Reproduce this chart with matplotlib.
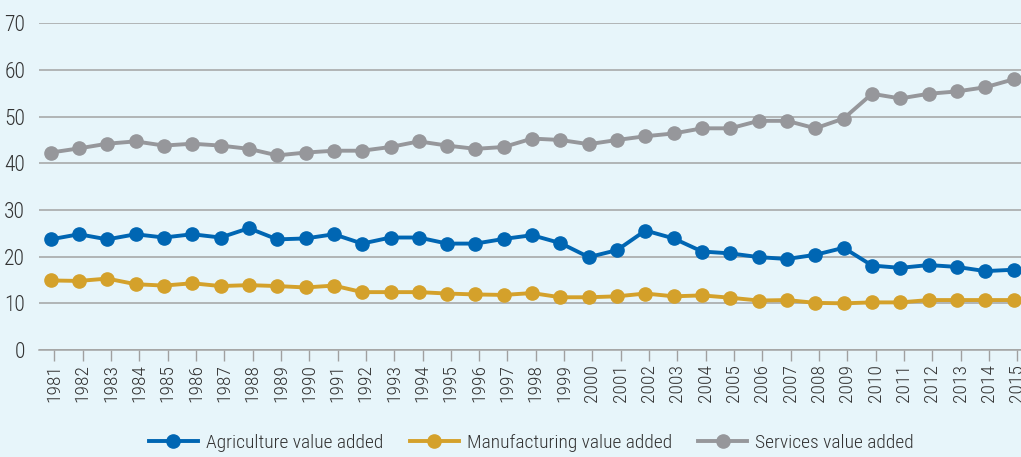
import matplotlib
matplotlib.use("Agg")
import matplotlib.pyplot as plt

years = list(range(1981, 2016))
agriculture = [23.7, 24.8, 23.7, 24.8, 24.1, 24.8, 24.1, 26.1, 23.7, 23.9, 24.8, 22.8,
               24.1, 24.1, 22.8, 22.8, 23.8, 24.6, 22.9, 19.9, 21.4, 25.6, 23.9, 21.1,
               20.7, 19.9, 19.5, 20.4, 21.9, 18.1, 17.6, 18.2, 17.8, 16.9, 17.2]
manufacturing = [14.9, 14.8, 15.3, 14.1, 13.8, 14.3, 13.7, 13.9, 13.7, 13.4, 13.8, 12.4,
                 12.4, 12.4, 12.1, 11.9, 11.8, 12.2, 11.3, 11.3, 11.5, 12.1, 11.5, 11.7,
                 11.2, 10.6, 10.7, 10.1, 10.0, 10.2, 10.2, 10.7, 10.7, 10.7, 10.7]
services = [42.3, 43.2, 44.2, 44.7, 43.8, 44.2, 43.8, 43.1, 41.7, 42.3, 42.7, 42.7,
            43.5, 44.7, 43.8, 43.1, 43.5, 45.3, 45.0, 44.1, 45.0, 45.8, 46.4, 47.5,
            47.5, 49.1, 49.1, 47.5, 49.6, 54.9, 53.9, 54.9, 55.4, 56.3, 58.0]
series_names = ["Agriculture value added", "Manufacturing value added", "Services value added"]
colors = ["#0066b3", "#d4a12b", "#96979b"]
yticks = [0, 10, 20, 30, 40, 50, 60, 70]

plt.rcParams['font.family'] = ['Roboto Condensed', 'Liberation Sans', 'DejaVu Sans']
plt.rcParams['font.weight'] = 'light'

bg = "#e7f5fa"
txt = "#333333"
fig = plt.figure(figsize=(10.21, 4.57), dpi=100, facecolor=bg)
ax = fig.add_axes([39/1021, 1-350/457, 1-39/1021, (350-23.3)/457])
ax.set_facecolor(bg)

x = list(range(len(years)))
for vals, name, c in zip([agriculture, manufacturing, services], series_names, colors):
    ax.plot(x, vals, color=c, lw=2.8, marker='o', ms=9.5, label=name, clip_on=False, zorder=3)

ax.set_xlim(-0.41, len(years) - 1 + 0.26)
ax.set_ylim(0, 70)
ax.set_yticks(yticks)
ax.set_yticklabels([str(v) for v in yticks], fontsize=15.5, color=txt)
ax.tick_params(axis='y', length=0, pad=10)
ax.set_xticks([i + 0.13 for i in x])
ax.set_xticklabels([str(y) for y in years], rotation=90, fontsize=14, color=txt)
ax.tick_params(axis='x', length=8, width=1, color="#a0a0a0", pad=2)
ax.grid(axis='y', color="#a3a3a3", lw=1.1)
ax.set_axisbelow(True)
for s in ['top', 'right', 'left']:
    ax.spines[s].set_visible(False)
ax.spines['bottom'].set_color("#a3a3a3")
ax.spines['bottom'].set_linewidth(1.1)

leg = fig.legend(loc='center', bbox_to_anchor=(531.5/1021, 1-443/457), ncol=3, frameon=False,
                 fontsize=14, handlelength=2.52, columnspacing=1.35, handletextpad=0.42,
                 labelcolor=txt, borderpad=0, borderaxespad=0)
fig.savefig("out.png", dpi=100, facecolor=bg)
